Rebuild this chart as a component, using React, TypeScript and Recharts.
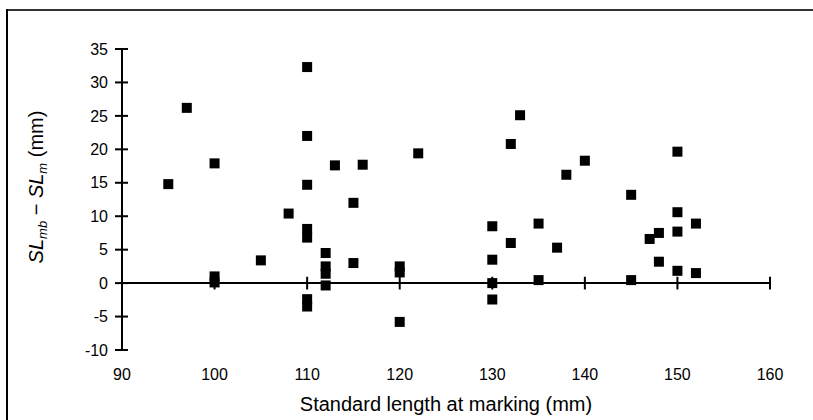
import React from 'react';
import { ScatterChart, Scatter, XAxis, YAxis, ReferenceLine } from 'recharts';

const lengthAtMarking = [95, 97, 100, 100, 100, 105, 108, 110, 110, 110, 110, 110, 110, 110, 112, 112, 112, 112, 113, 115, 115, 116, 120, 120, 120, 122, 130, 130, 130, 130, 132, 132, 133, 135, 135, 137, 138, 140, 145, 145, 147, 148, 148, 150, 150, 150, 150, 152, 152];
const lengthDifference = [14.8, 26.2, 17.9, 1.0, 0.1, 3.4, 10.4, 32.3, 22.0, 14.7, 8.1, 6.8, -2.4, -3.5, 4.5, 2.5, 1.4, -0.35, 17.6, 12.0, 3.0, 17.7, 2.5, 1.6, -5.8, 19.4, 8.5, 3.5, 0, -2.45, 20.8, 6.0, 25.1, 8.9, 0.45, 5.3, 16.2, 18.3, 13.2, 0.45, 6.6, 7.5, 3.2, 19.65, 10.6, 7.7, 1.84, 8.9, 1.5];

const xTicks = [90, 100, 110, 120, 130, 140, 150, 160];
const yTicks = [-10, -5, 0, 5, 10, 15, 20, 25, 30, 35];

const data = lengthAtMarking.map((x, i) => ({ x, y: lengthDifference[i] }));

const FONT = '"Liberation Sans", Arial, Helvetica, sans-serif';

const SquareShape = (props: any) => {
  const { cx, cy } = props;
  if (cx == null || cy == null) return null;
  return <rect x={cx - 5} y={cy - 5} width={10} height={10} fill="#000" />;
};

const YTitle = () => {
  const x = 43;
  const y = 187;
  return (
    <text
      x={x}
      y={y}
      transform={`rotate(-90, ${x}, ${y})`}
      textAnchor="middle"
      fontFamily={FONT}
      fontSize={20}
      fill="#000"
    >
      <tspan fontStyle="italic">SL</tspan>
      <tspan fontStyle="italic" fontSize={13} dy={4}>mb</tspan>
      <tspan dy={-4}> − </tspan>
      <tspan fontStyle="italic">SL</tspan>
      <tspan fontStyle="italic" fontSize={13} dy={4}>m</tspan>
      <tspan dy={-4}> (mm)</tspan>
    </text>
  );
};

const XTitle = (props: any) => {
  const vb = props.viewBox || {};
  const cx = (vb.x ?? 122) + (vb.width ?? 648) / 2;
  return (
    <text x={cx} y={411} textAnchor="middle" fontFamily={FONT} fontSize={20} fill="#000">
      Standard length at marking (mm)
    </text>
  );
};

export default function App() {
  return (
    <div style={{ position: 'absolute', left: 0, top: 0, width: 813, height: 420, background: '#fff', overflow: 'hidden' }}>
      <div style={{ position: 'absolute', left: 6, top: 9, width: 807, height: 2, background: '#333' }} />
      <div style={{ position: 'absolute', left: 6, top: 9, width: 2, height: 411, background: '#000' }} />
      <div style={{ position: 'absolute', left: 0, top: 0 }}>
        <ScatterChart width={813} height={420} margin={{ top: 49, right: 43, bottom: 0, left: 62 }}>
          <XAxis
            type="number"
            dataKey="x"
            domain={[90, 160]}
            ticks={xTicks}
            interval={0}
            axisLine={false}
            tickLine={false}
            tickSize={6}
            tickMargin={13}
            height={70}
            tick={{ fontSize: 16, fill: '#000', fontFamily: FONT }}
            label={{ content: <XTitle /> }}
          />
          <YAxis
            type="number"
            dataKey="y"
            domain={[-10, 35]}
            ticks={yTicks}
            interval={0}
            width={60}
            axisLine={{ stroke: '#000', strokeWidth: 2 }}
            tickLine={{ stroke: '#000', strokeWidth: 2 }}
            tickSize={7}
            tickMargin={7}
            tick={{ fontSize: 16, fill: '#000', fontFamily: FONT }}
            label={{ content: <YTitle /> }}
          />
          <ReferenceLine y={0} stroke="#000" strokeWidth={2} />
          {xTicks.slice(1).map((t) => (
            <ReferenceLine
              key={'xt' + t}
              segment={[{ x: t, y: -0.95 }, { x: t, y: 0.95 }]}
              stroke="#000"
              strokeWidth={2}
            />
          ))}
          {yTicks.map((t) => (
            <ReferenceLine
              key={'yt' + t}
              segment={[{ x: 90, y: t }, { x: 90.65, y: t }]}
              stroke="#000"
              strokeWidth={2}
            />
          ))}
          <Scatter data={data} shape={<SquareShape />} isAnimationActive={false} />
        </ScatterChart>
      </div>
    </div>
  );
}
